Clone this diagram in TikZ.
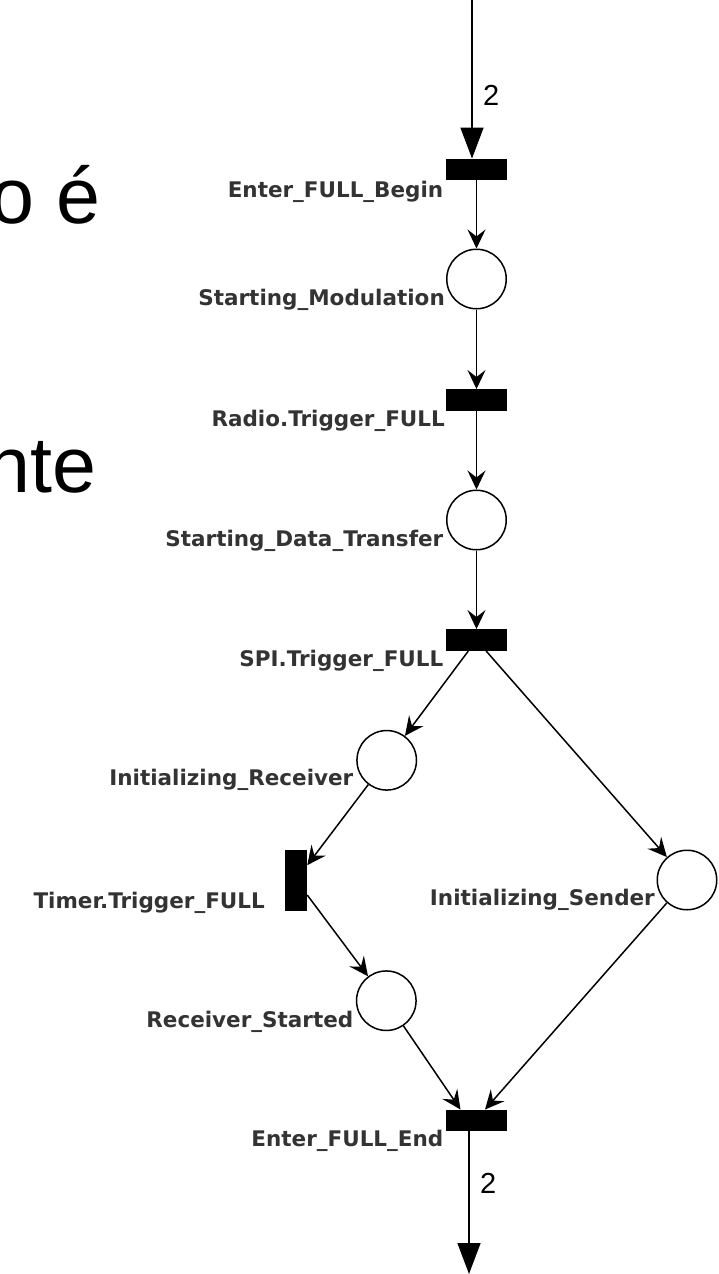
\documentclass[tikz,border=0pt]{standalone}
\usepackage{fontspec}
\usetikzlibrary{arrows.meta}
\newfontfamily\lblfont{DejaVu Sans}
\newfontfamily\slidefont{Liberation Sans}
\begin{document}
\begin{tikzpicture}[x=1pt,y=-1pt,
  place/.style={circle, draw, line width=1.5pt, fill=white, minimum size=59.5pt, inner sep=0pt},
  hbar/.style={rectangle, fill=black, minimum width=61pt, minimum height=21.5pt, inner sep=0pt},
  vbar/.style={rectangle, fill=black, minimum width=22pt, minimum height=61pt, inner sep=0pt},
  lbl/.style={font=\lblfont\bfseries\fontsize{21.5}{24}\selectfont, text=black!80, inner sep=0pt, anchor=base east},
  weight/.style={font=\slidefont\fontsize{29}{32}\selectfont, inner sep=0pt, anchor=base west},
  slide/.style={font=\slidefont\fontsize{79}{90}\selectfont, inner sep=0pt, anchor=base west},
  arc/.style={draw, line width=1.5pt, -{Stealth[length=19pt,width=18pt,inset=7pt]}},
  bigarc/.style={draw, line width=1.5pt, -{Triangle[length=31pt,width=23pt]}}
]
\useasboundingbox[fill=white] (0,0) rectangle (718,1274);

% slide text behind the net
\node[slide] (s1) at (-10,223) {o é};
\node[slide] (s2) at (-14,492) {nte};

% places and transitions
\node[hbar]  (tb) at (476.5,169.5) {};
\node[place] (p1) at (476.5,279) {};
\node[hbar]  (t2) at (476.5,400) {};
\node[place] (p2) at (476.5,520) {};
\node[hbar]  (t3) at (476.5,640) {};
\node[place] (pr) at (386.7,760.3) {};
\node[vbar]  (tt) at (296,880) {};
\node[place] (ps) at (687,880) {};
\node[place] (rs) at (386.3,1000.7) {};
\node[hbar]  (te) at (476.5,1120.5) {};

% labels
\node[lbl] (ltb) at (443.5,197)   {Enter\_FULL\_Begin};
\node[lbl] (lp1) at (445,305)     {Starting\_Modulation};
\node[lbl] (lt2) at (445,426)     {Radio.Trigger\_FULL};
\node[lbl] (lp2) at (443.5,546.5) {Starting\_Data\_Transfer};
\node[lbl] (lt3) at (443.5,666.5) {SPI.Trigger\_FULL};
\node[lbl] (lpr) at (353.5,785)   {Initializing\_Receiver};
\node[lbl] (ltt) at (265,908)     {Timer.Trigger\_FULL};
\node[lbl] (lps) at (655,905)     {Initializing\_Sender};
\node[lbl] (lrs) at (353.5,1027)  {Receiver\_Started};
\node[lbl] (lte) at (443.5,1146.5){Enter\_FULL\_End};

% inlet and outlet
\coordinate (in0) at (472,0);
\coordinate (out0) at (469,1274);
\draw[bigarc] (in0) -- (in0 |- tb.north);
\draw[bigarc] (te.south -| out0) -- (out0);
\node[weight] (w1) at (483,105) {2};
\node[weight] (w2) at (480,1193) {2};

% arcs
\draw[arc] (tb) -- (p1);
\draw[arc] (p1) -- (t2);
\draw[arc] (t2) -- (p2);
\draw[arc] (p2) -- (t3);
\draw[arc] (t3) -- (pr);
\draw[arc] (t3) -- (ps);
\draw[arc] (pr) -- (tt);
\draw[arc] (tt) -- (rs);
\draw[arc] (rs) -- ([xshift=-16pt]te.north);
\draw[arc] (ps) -- ([xshift=8.5pt]te.north);
\end{tikzpicture}
\end{document}
